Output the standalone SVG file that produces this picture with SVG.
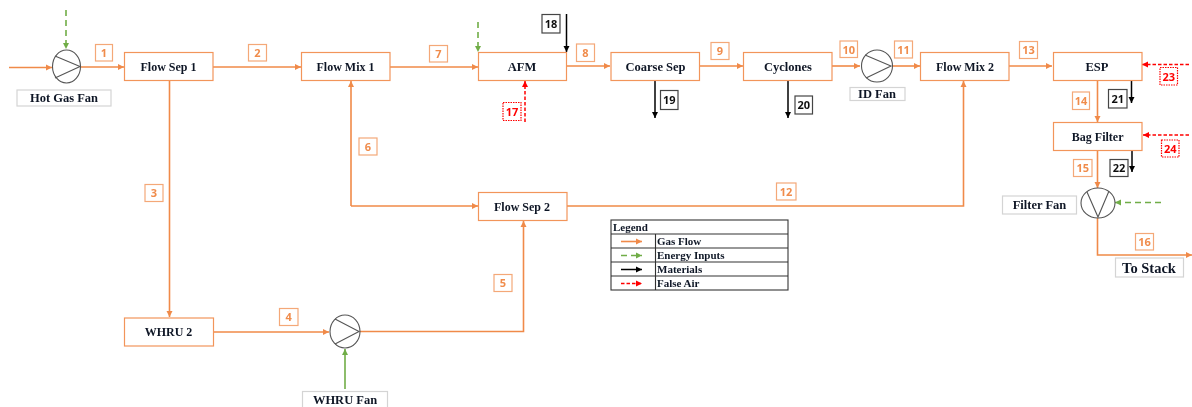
<svg xmlns="http://www.w3.org/2000/svg" width="1192" height="407" viewBox="0 0 1192 407">
<style>
text{font-family:"Liberation Serif","Times New Roman",serif;font-weight:bold;fill:#111827;text-anchor:middle}
.n{font-size:12.5px}
.b{font-size:12px}
.big{font-size:14.500px}
.box{fill:#fff;stroke:#F2955A;stroke-width:1.2}
.cap{fill:#fff;stroke:#d4d4d4;stroke-width:1.2}
.fan{fill:#fff;stroke:#555;stroke-width:1.1}
.vane{fill:none;stroke:#555;stroke-width:1.1}
.tag{fill:#fff;stroke-width:1.2}
.tag.o{stroke:#F4A878}.tag.k{stroke:#444}.tag.r{stroke:#f00;stroke-dasharray:1.5 1}
.t{font-family:"Open Sans","Noto Sans",sans-serif;font-size:11px}
.t.o{fill:#F08C4C}.t.k{fill:#111}.t.r{fill:#f00}
.gas{fill:none;stroke:#F08A48;stroke-width:1.6;marker-end:url(#ao)}
.en{fill:none;stroke:#70AD47;stroke-width:1.6;stroke-dasharray:6 4;marker-end:url(#ag)}
.ens{fill:none;stroke:#70AD47;stroke-width:1.6;marker-end:url(#ag)}
.mat{fill:none;stroke:#000;stroke-width:1.5;marker-end:url(#ak)}
.air{fill:none;stroke:#f00;stroke-width:1.5;stroke-dasharray:3.500 2;marker-end:url(#ar)}
.lg{font-size:11px;text-anchor:start}
.gl{stroke:#333;stroke-width:1.1;fill:none}
</style>
<defs>
<filter id="soft" filterUnits="userSpaceOnUse" x="0" y="0" width="1192" height="407"><feGaussianBlur stdDeviation="0.35"/></filter>
<marker id="ao" markerUnits="userSpaceOnUse" markerWidth="7" markerHeight="7" refX="6" refY="3.5" orient="auto"><path d="M0 0.5L6 3.5L0 6.5z" fill="#F08A48"/></marker>
<marker id="ag" markerUnits="userSpaceOnUse" markerWidth="7" markerHeight="7" refX="6" refY="3.5" orient="auto"><path d="M0 0.5L6 3.5L0 6.5z" fill="#70AD47"/></marker>
<marker id="ak" markerUnits="userSpaceOnUse" markerWidth="7" markerHeight="7" refX="6" refY="3.5" orient="auto"><path d="M0 0.5L6 3.5L0 6.5z" fill="#000"/></marker>
<marker id="ar" markerUnits="userSpaceOnUse" markerWidth="7" markerHeight="7" refX="6" refY="3.5" orient="auto"><path d="M0 0.5L6 3.5L0 6.5z" fill="#f00"/></marker>
</defs>
<rect width="1192" height="407" fill="#fff"/>
<g filter="url(#soft)">
<g id="connectors">
<path class="gas" d="M9 67.500H52"/>
<path class="gas" d="M80 67H124"/>
<path class="gas" d="M213 67H301"/>
<path class="gas" d="M390 67H478"/>
<path class="gas" d="M566 66H610"/>
<path class="gas" d="M700 66H743"/>
<path class="gas" d="M832 66H860"/>
<path class="gas" d="M892 66H920"/>
<path class="gas" d="M1009 66H1052"/>
<path class="gas" d="M169.500 81V317"/>
<path class="gas" d="M214 332H329"/>
<path class="gas" d="M360 331.500H523.500V221"/>
<path class="gas" d="M351 206H478"/>
<path class="gas" d="M351 206V81"/>
<path class="gas" d="M567 206H963.500V81"/>
<path class="gas" d="M1097.500 81V122"/>
<path class="gas" d="M1097.500 151V188"/>
<path class="gas" d="M1097.500 218V255H1192"/>
<path class="en" d="M66 10V49"/>
<path class="en" d="M478 22V52"/>
<path class="ens" d="M345 389V349"/>
<path class="en" d="M1161 202.500H1115"/>
<path class="mat" d="M566.500 14V52"/>
<path class="mat" d="M655 81V118"/>
<path class="mat" d="M788 81V118"/>
<path class="mat" d="M1131.500 81V103"/>
<path class="mat" d="M1132 150V172"/>
<path class="air" d="M525 122V81"/>
<path class="air" d="M1189 64.500H1142"/>
<path class="air" d="M1189 135H1143"/>
</g>

<g id="hot-gas-fan"><ellipse class="fan" cx="66.500" cy="66.500" rx="14" ry="16.500"/><path class="vane" d="M55 56L80 66.500L55 78"/><rect class="cap" x="17" y="90" width="94" height="16"/><text class="n" x="64" y="102">Hot Gas Fan</text></g>
<g id="flow-sep-1"><rect class="box" x="124.500" y="52.500" width="88.500" height="28"/><text class="b" x="168.500" y="71">Flow Sep 1</text></g>
<g id="flow-mix-1"><rect class="box" x="301.500" y="52.500" width="88.500" height="28"/><text class="b" x="345.500" y="71">Flow Mix 1</text></g>
<g id="afm"><rect class="box" x="478.500" y="52.500" width="88" height="28"/><text class="n" x="522" y="71">AFM</text></g>
<g id="coarse-sep"><rect class="box" x="611" y="52.500" width="88.500" height="28"/><text class="n" x="655.500" y="71">Coarse Sep</text></g>
<g id="cyclones"><rect class="box" x="743.500" y="52.500" width="88.500" height="28"/><text class="n" x="788" y="71">Cyclones</text></g>
<g id="id-fan"><ellipse class="fan" cx="877" cy="66" rx="15.500" ry="16"/><path class="vane" d="M865 55L891 66L866 78"/><rect class="cap" x="850" y="87.500" width="55" height="13"/><text class="n" x="877" y="98">ID Fan</text></g>
<g id="flow-mix-2"><rect class="box" x="920.500" y="52.500" width="88.500" height="28"/><text class="b" x="965" y="71">Flow Mix 2</text></g>
<g id="esp"><rect class="box" x="1053.500" y="52.500" width="88.500" height="28"/><text class="n" x="1097" y="71">ESP</text></g>
<g id="bag-filter"><rect class="box" x="1053.500" y="122.500" width="88.500" height="28"/><text class="b" x="1097.700" y="141">Bag Filter</text></g>
<g id="filter-fan"><ellipse class="fan" cx="1098" cy="203" rx="17" ry="15"/><path class="vane" d="M1087 192L1098 217L1109 191"/><rect class="cap" x="1002.500" y="196" width="74" height="18"/><text class="n" x="1039.500" y="209">Filter Fan</text></g>
<g id="to-stack"><rect class="cap" x="1115.500" y="258" width="68" height="19"/><text class="big" x="1149" y="272.500">To Stack</text></g>
<g id="flow-sep-2"><rect class="box" x="478.500" y="192.500" width="88.500" height="28"/><text class="b" x="522" y="211">Flow Sep 2</text></g>
<g id="whru-2"><rect class="box" x="124.500" y="318" width="89" height="28"/><text class="b" x="168.500" y="336">WHRU 2</text></g>
<g id="whru-fan"><ellipse class="fan" cx="345" cy="331.500" rx="15" ry="16.500"/><path class="vane" d="M335 319L359 331.500L335 344"/><rect class="cap" x="302.500" y="391.500" width="85" height="17"/><text class="n" x="345" y="404">WHRU Fan</text></g>

<g id="labels">
<rect class="tag o" x="95.500" y="44.500" width="17" height="16.500"/><text class="t o" x="104" y="56.500">1</text>
<rect class="tag o" x="248.500" y="44.500" width="18" height="16.500"/><text class="t o" x="257.500" y="56.500">2</text>
<rect class="tag o" x="145" y="184.500" width="18" height="17"/><text class="t o" x="154" y="197">3</text>
<rect class="tag o" x="279.500" y="308.500" width="18.500" height="17"/><text class="t o" x="288.700" y="321">4</text>
<rect class="tag o" x="494" y="274.500" width="18" height="17"/><text class="t o" x="503" y="287">5</text>
<rect class="tag o" x="359" y="138" width="18" height="17"/><text class="t o" x="368" y="150.500">6</text>
<rect class="tag o" x="429.500" y="45.500" width="18" height="16.500"/><text class="t o" x="438.500" y="58">7</text>
<rect class="tag o" x="576.500" y="44" width="18" height="17.500"/><text class="t o" x="585.500" y="57">8</text>
<rect class="tag o" x="711" y="42.500" width="18" height="17"/><text class="t o" x="720" y="55">9</text>
<rect class="tag o" x="840" y="41" width="17.500" height="16.500"/><text class="t o" x="848.800" y="53.500">10</text>
<rect class="tag o" x="894.500" y="41" width="18" height="17"/><text class="t o" x="903.500" y="53.500">11</text>
<rect class="tag o" x="776.500" y="183" width="19.500" height="17"/><text class="t o" x="786" y="195.500">12</text>
<rect class="tag o" x="1019.500" y="41.500" width="18" height="17"/><text class="t o" x="1028.500" y="54">13</text>
<rect class="tag o" x="1072.500" y="92" width="17" height="17.500"/><text class="t o" x="1081" y="105">14</text>
<rect class="tag o" x="1073.500" y="159.500" width="18.500" height="17"/><text class="t o" x="1082.700" y="172">15</text>
<rect class="tag o" x="1135.500" y="233.500" width="18" height="16.500"/><text class="t o" x="1144.500" y="246">16</text>
<rect class="tag r" x="503" y="102.500" width="18" height="18"/><text class="t r" x="512" y="116">17</text>
<rect class="tag k" x="542" y="14.500" width="18" height="18.500"/><text class="t k" x="551" y="28">18</text>
<rect class="tag k" x="660.500" y="90.500" width="17.500" height="19"/><text class="t k" x="669.200" y="104">19</text>
<rect class="tag k" x="795" y="96" width="17.500" height="18"/><text class="t k" x="803.700" y="109">20</text>
<rect class="tag k" x="1108.500" y="89.500" width="18.500" height="18.500"/><text class="t k" x="1117.700" y="103">21</text>
<rect class="tag k" x="1110" y="159.500" width="18" height="17"/><text class="t k" x="1119" y="172">22</text>
<rect class="tag r" x="1160" y="67.500" width="17.500" height="17.500"/><text class="t r" x="1168.700" y="80.500">23</text>
<rect class="tag r" x="1161.500" y="140" width="17.500" height="17"/><text class="t r" x="1170.200" y="153">24</text>
</g>

<g id="legend">
<rect x="611" y="220" width="177" height="70" fill="#fff" class="gl"/>
<path class="gl" d="M611 234H788M611 248H788M611 262H788M611 276H788M655.500 234V290"/>
<text class="lg" x="613" y="231">Legend</text>
<path class="gas" d="M621 241.500H642"/><text class="lg" x="657" y="245">Gas Flow</text>
<path class="en" d="M621 255.500H642"/><text class="lg" x="657" y="259">Energy Inputs</text>
<path class="mat" d="M621 269.500H642"/><text class="lg" x="657" y="273">Materials</text>
<path class="air" d="M621 283.500H642"/><text class="lg" x="657" y="287">False Air</text>
</g>
</g>
</svg>
